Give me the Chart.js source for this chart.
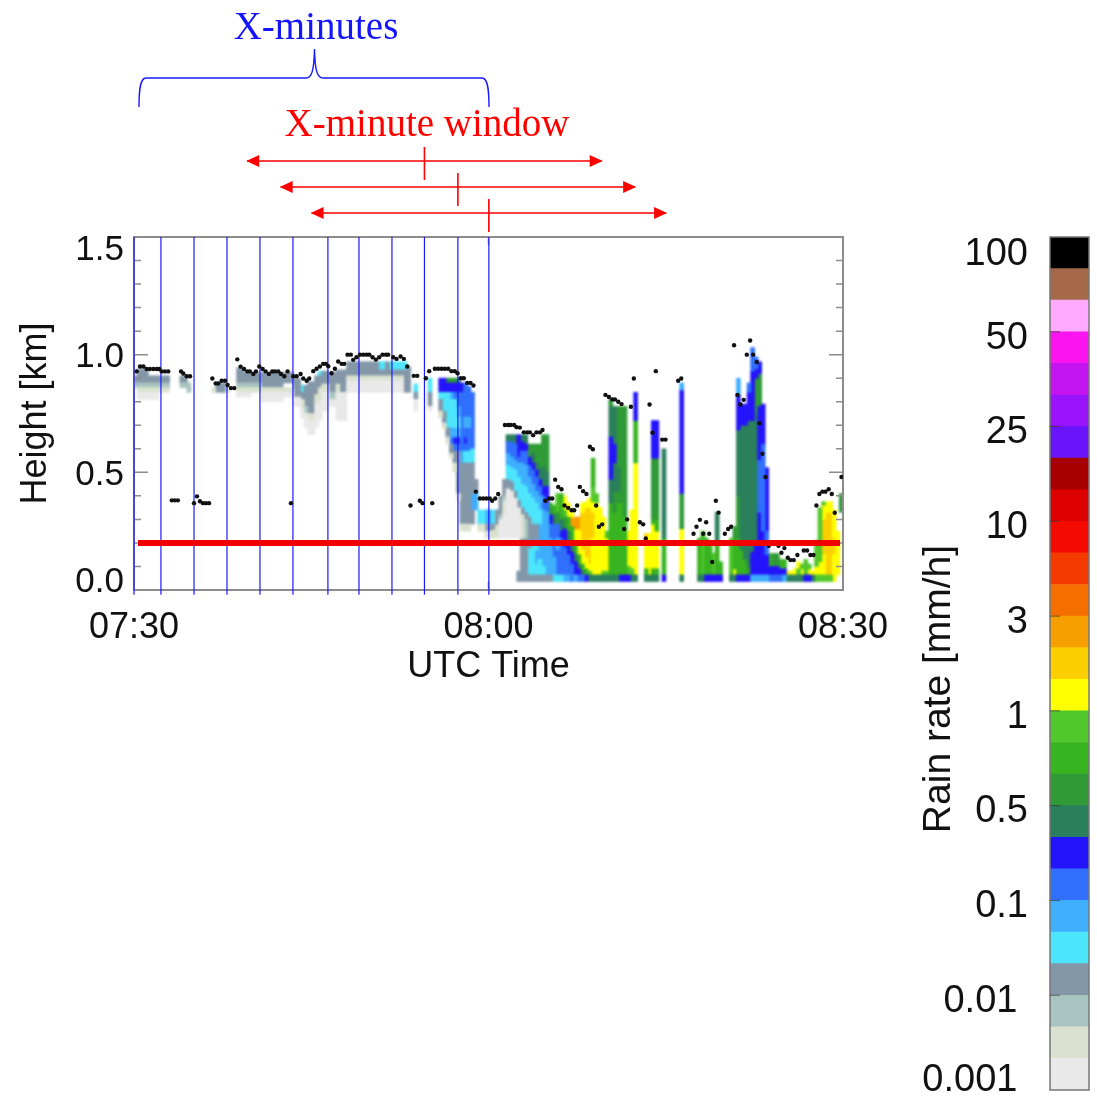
<!DOCTYPE html>
<html>
<head>
<meta charset="utf-8">
<title>Rain rate</title>
<script src="https://cdn.jsdelivr.net/npm/chart.js@4"></script>
<style>
  html, body { margin: 0; background: #fff; }
  canvas { position: absolute; left: 0; top: 0; }
</style>
</head>
<body>
<canvas id="main" width="1097" height="1099"></canvas>
<canvas id="bar" width="1097" height="1099"></canvas>
<script>
// colour bar, bottom to top, one colour per rain level
const levelColors = [
  "#e9e9e9", "#dae2cf", "#a8c4c0", "#8497a8", "#4de5fb", "#3eaefd", "#2f6ffb", "#2414fb", "#2a7f5c",
  "#2f9a36", "#38b420", "#52c72c", "#ffff00", "#fbcf00", "#f79e00", "#f56e00", "#f53a00", "#f50a00",
  "#dd0000", "#a80000", "#6a14fb", "#9a14fb", "#c414f0", "#fa14f0", "#ffaaff", "#a5694a", "#000000"
];
const barTickLabels = ["0.001 ", "0.01 ", "0.1", "0.5", "1", "3", "10", "25", "50", "100"];
const barLabelSlots = [0.3, 2.8, 5.8, 8.8, 11.8, 14.8, 17.8, 20.8, 23.8, 26.45];
const barTickSlots = [3, 6, 9, 12, 15, 18, 21, 24];

const timeTicks = [0, 30, 60]; // minutes after 07:30
const timeLabels = ["07:30", "08:00", "08:30"];
const heightLabels = ["0.0", "0.5", "1.0", "1.5"];
const heightLabelSlots = [0.033, 0.488, 0.988, 1.443];

const columnMinutes = 0.3; // one radar column

// [first column, last column, h0, level, h1, level, ... hTop], heights in km, bands bottom up
const rainBands = [
  // shallow layer before 07:55
  [0,0, .86,2,.88,3,.91],
  [1,3, .81,0,.84,1,.86,2,.88,3,.94],
  [4,6, .81,0,.84,1,.86,2,.88,3,.91],
  [7,9, .84,1,.86,2,.88,3,.91],
  [13,14, .86,2,.88,3,.91],
  [15,15, .84,2,.88],
  [22,22, .84,1,.86],
  [23,25, .84,3,.88],
  [26,26, .84,1,.87],
  [29,30, .82,0,.84,1,.86,2,.88,3,.945],
  [31,32, .82,0,.84,1,.86,2,.88,3,.925],
  [33,35, .84,1,.86,2,.88,3,.925],
  [36,41, .80,0,.84,1,.86,3,.925],
  [42,44, .82,0,.84,1,.86],
  [42,44, .88,3,.925],
  [45,46, .78,0,.82,3,.90],
  [47,47, .73,0,.77,1,.81,3,.84,4,.87],
  [48,48, .69,0,.75,2,.78,3,.87],
  [49,50, .66,0,.72,1,.75,3,.885],
  [51,51, .69,0,.79,1,.83,3,.91],
  [52,52, .72,0,.80,1,.86,3,.91,4,.93],
  [53,54, .76,0,.84,1,.875,3,.93],
  [55,56, .78,0,.81,2,.84,3,.925],
  [57,57, .72,0,.84,1,.875,3,.935],
  [58,59, .72,0,.84,3,.935],
  [60,68, .84,0,.89,1,.91,3,.97],
  [69,70, .84,0,.89,1,.91,3,.935,4,.97],
  [71,71, .84,0,.89,1,.91,3,.97],
  [72,75, .84,0,.89,1,.91,3,.935,4,.97],
  [76,76, .84,3,.935,4,.97],
  [77,77, .84,3,.95],
  [79,79, .76,0,.81,3,.84,4,.875],
  [83,83, .76,0,.78,3,.84,4,.90],
  // falling shaft around 07:56-07:59
  [86,86, .73,1,.76,3,.81,4,.84,7,.90],
  [87,87, .685,1,.71,3,.76,4,.84,7,.90],
  [88,88, .62,1,.65,3,.69,4,.84,7,.88,9,.90],
  [89,89, .56,1,.58,3,.62,6,.65,5,.69,4,.81,5,.84,7,.88,9,.90],
  [90,90, .50,1,.54,3,.59,6,.62,7,.65,5,.69,4,.81,6,.84,7,.88,9,.90],
  [91,91, .38,0,.41,3,.59,6,.62,7,.65,5,.69,4,.735,5,.78,6,.84,7,.88,8,.90],
  [92,92, .25,1,.28,3,.54,5,.59,6,.84,7,.88],
  [93,93, .25,1,.28,3,.54,4,.59,6,.62,7,.65,6,.69,5,.735,6,.88],
  [94,94, .25,1,.28,3,.54,4,.59,6,.69,5,.735,6,.865],
  [95,95, .28,3,.34,5,.41,3,.54,4,.60,6,.84],
  [96,96, .34,5,.42,3,.47],
  [97,98, .25,1,.28,4,.34],
  [99,100, .22,1,.25,3,.28,5,.34],
  [101,101, .22,1,.255,3,.28,4,.34],
  // first surface-reaching shower, above the 0.22 km line
  [102,102, .22,1,.276,3,.34],
  [103,103, .22,0,.30,2,.32,3,.40],
  [104,104, .22,0,.32,1,.38,2,.40,3,.47],
  [105,105, .22,0,.43,3,.47,4,.53,5,.58,6,.63,8,.66],
  [106,106, .22,0,.42,3,.46,4,.52,5,.565,6,.63,8,.66],
  [107,107, .22,0,.39,3,.42,4,.51,5,.55,6,.62,8,.66],
  [108,108, .22,0,.35,3,.38,4,.48,5,.54,6,.565,7,.66],
  [109,109, .22,1,.32,3,.35,4,.45,5,.54,6,.59,7,.63,8,.66],
  [110,110, .22,2,.30,3,.33,4,.44,5,.53,6,.59,7,.62,8,.66],
  [111,111, .22,3,.31,4,.41,5,.48,6,.53,7,.565,9,.62],
  [112,112, .22,3,.28,4,.39,5,.45,6,.51,7,.54,8,.58,9,.62],
  [113,113, .22,3,.28,4,.37,5,.42,6,.48,7,.51,8,.54,9,.62],
  [114,114, .22,5,.28,4,.34,5,.40,6,.44,7,.47,8,.52,9,.62],
  [115,115, .22,5,.34,6,.40,7,.44,8,.52,9,.66],
  [116,116, .22,5,.33,6,.37,7,.44,8,.50,9,.66],
  [117,117, .22,6,.28,7,.32,9,.35,10,.37],
  [118,118, .22,6,.28,8,.32,10,.36],
  [119,119, .22,6,.28,9,.33,11,.41],
  [120,120, .22,7,.25,8,.30,10,.41],
  [121,121, .22,7,.26,9,.31,11,.34,12,.40],
  [122,122, .22,8,.25,10,.31,12,.37],
  [123,123, .22,10,.27,14,.31,12,.33],
  [124,125, .22,12,.255,14,.31],
  [126,126, .22,13,.33,12,.37],
  [127,127, .22,13,.35,12,.375],
  [128,128, .22,13,.35,12,.39],
  [129,129, .22,13,.33,12,.375,11,.44,10,.56],
  [130,130, .22,12,.37,11,.41],
  [131,131, .22,12,.35],
  [132,132, .22,12,.31],
  // same shower, below the 0.22 km line
  [108,108, .036,3,.08],
  [109,110, .036,3,.22],
  [111,111, .036,3,.064,4,.18,3,.22],
  [112,112, .036,3,.064,4,.20,5,.22],
  [113,113, .036,3,.064,4,.11,5,.17,4,.20,3,.22],
  [114,114, .036,3,.064,4,.13,5,.22],
  [115,115, .036,3,.064,4,.10,5,.22],
  [116,117, .036,3,.064,5,.22],
  [118,118, .036,4,.064,5,.14,6,.22],
  [119,119, .036,4,.064,6,.17,5,.22],
  [120,120, .036,4,.064,6,.22],
  [121,121, .036,5,.064,6,.18,7,.22],
  [122,122, .036,5,.064,6,.15,7,.19,8,.22],
  [123,123, .036,6,.11,7,.16,8,.19,10,.22],
  [124,124, .036,5,.064,7,.12,8,.15,10,.19,12,.22],
  [125,125, .036,6,.064,7,.09,8,.11,10,.15,12,.22],
  [126,126, .036,6,.064,8,.08,10,.11,12,.17,13,.22],
  [127,127, .036,7,.064,10,.09,12,.14,13,.22],
  [128,128, .036,8,.064,11,.08,12,.11,13,.22],
  [129,131, .036,8,.064,12,.22],
  [132,132, .036,8,.064,11,.08,12,.22],
  [133,133, .036,8,.064,11,.08,12,.22,11,.25],
  // narrow showers 08:10-08:20
  [134,134, .036,8,.064,10,.37,8,.47,7,.65,8,.78,9,.81],
  [135,135, .036,8,.064,10,.33,9,.42,8,.54,7,.62,8,.78],
  [136,136, .036,8,.064,10,.37,9,.42,8,.52,9,.78],
  [137,137, .036,7,.064,10,.37,9,.78],
  [138,138, .036,7,.064,10,.31,9,.78],
  [139,139, .036,7,.064,11,.10,12,.25],
  [140,140, .036,8,.064,11,.09,12,.34],
  [141,141, .036,8,.064,12,.54,10,.72,7,.84],
  [144,144, .036,8,.064,10,.09,12,.21,13,.24],
  [145,145, .036,8,.064,12,.24],
  [146,146, .036,8,.064,10,.09,12,.28,10,.30,9,.56,7,.72],
  [147,147, .036,8,.064,10,.09,12,.25,10,.30,9,.56,7,.72],
  [149,149, .036,7,.064,10,.22,8,.60],
  [154,154, .036,8,.064,12,.26,9,.41,7,.85,5,.88],
  [159,159, .036,8,.064,10,.22],
  [160,160, .036,8,.064,11,.22,10,.25],
  [161,161, .036,7,.064,10,.22],
  [162,162, .036,7,.064,10,.19],
  [163,163, .036,7,.064,11,.156],
  [164,164, .036,7,.064,10,.20,8,.33],
  [165,165, .036,7,.064,10,.12],
  // deep shower 08:20-08:24
  [168,168, .036,8,.064,11,.22],
  [169,169, .036,8,.064,12,.09,10,.22,9,.27],
  [170,170, .036,7,.064,10,.22,9,.40,8,.68,7,.83,5,.90],
  [171,171, .036,7,.064,10,.17,8,.70,7,.79],
  [172,172, .036,7,.064,10,.13,8,.70,7,.79],
  [173,173, .036,7,.064,9,.10,8,.72,7,.84,6,.88],
  [174,174, .036,5,.064,7,.16,8,.72,7,.93,6,1.03],
  [175,175, .036,5,.064,7,.20,8,.75,9,.90,7,.94,6,.99],
  [176,176, .036,5,.064,7,.33,6,.55,7,.78,9,.92,7,.97],
  [177,177, .036,5,.064,7,.25,6,.62,7,.79],
  [178,178, .036,5,.064,7,.15,6,.25,7,.52],
  [179,179, .036,6,.064,7,.10,10,.155],
  [180,181, .036,6,.064,7,.10,9,.155],
  [182,182, .036,6,.064,7,.09,10,.13],
  [183,183, .036,5,.064,7,.09,10,.13],
  // last light rain up to 08:30
  [184,185, .036,8,.064,12,.08],
  [186,186, .036,8,.064,12,.09],
  [187,187, .036,8,.064,11,.09,12,.12],
  [188,188, .036,8,.064,12,.09,11,.11],
  [189,189, .036,7,.064,11,.13],
  [190,190, .036,7,.064,12,.09,11,.11],
  [191,191, .036,8,.064,12,.08],
  [192,192, .036,11,.064,12,.10,11,.21],
  [193,193, .036,11,.064,12,.12,11,.35],
  [194,194, .036,11,.064,12,.15,13,.30,12,.36,11,.375],
  [195,196, .036,11,.064,13,.33,12,.375],
  [197,197, .036,12,.15,13,.22,12,.34],
  [198,198, .064,12,.25],
  [199,199, .33,9,.41]
];

// radar echo top dots
const dotTimes = [
  .23,.51,.79,1.07,1.35,1.64,1.92,2.14,2.34,2.62,2.9,3.2,3.46,3.71,3.98,4.17,4.46,4.74,5.08,5.33,5.58,5.84,6.09,6.35,
  6.63,6.91,7.14,7.42,7.7,7.92,8.21,8.49,8.74,9.02,9.31,9.59,9.81,10.1,10.32,10.6,10.89,11.14,11.42,11.7,11.93,12.21,
  12.44,12.72,13.0,13.28,13.48,13.76,14.1,14.33,14.61,14.83,15.17,15.45,15.73,16.01,16.24,16.44,16.72,17.0,17.28,17.57,
  17.79,18.07,18.35,18.55,18.83,19.12,19.4,19.68,19.91,20.19,20.47,20.75,21.03,21.32,21.51,21.94,22.22,22.56,22.84,
  23.12,23.4,23.68,23.97,24.19,24.42,24.7,24.98,25.24,25.46,25.74,26.03,26.31,26.59,26.87,27.15,27.38,27.66,27.91,
  28.2,28.48,28.73,28.93,29.27,29.55,29.83,30.11,30.31,30.57,30.82,31.39,31.67,31.89,32.17,32.37,32.65,32.99,33.27,
  33.5,33.78,34.06,34.35,34.57,34.8,35.14,35.39,35.64,35.9,36.18,36.43,36.74,37.03,37.25,37.5,37.73,38.01,38.29,38.58,
  38.83,39.11,39.34,39.62,39.9,40.19,40.47,40.7,40.98,41.26,41.48,41.73,42.05,42.3,42.81,43.09,43.31,43.63,43.88,44.16,
  44.7,44.98,46.05,46.31,47.35,47.6,47.89,48.17,48.42,48.68,48.93,49.24,49.47,50.0,50.28,50.53,50.78,51.07,51.32,51.6,
  51.86,52.14,52.39,52.7,52.93,53.18,53.44,53.72,54.54,54.79,55.04,55.33,55.55,55.83,56.14,56.68,56.96,57.24,57.5,
  57.75,58.0,58.26,58.51,58.79,59.05,59.3,59.87
];
const dotHeights = [
  .929,.95,.95,.939,.939,.939,.939,.939,.929,.929,.929,.381,.381,.381,.929,.92,.908,.908,.369,.398,.377,.369,.369,.369,
  .899,.878,.878,.889,.889,.871,.858,.858,.98,.949,.939,.929,.929,.918,.929,.95,.939,.929,.918,.929,.929,.929,
  .918,.908,.929,.369,.908,.908,.918,.899,.889,.899,.93,.94,.95,.961,.961,.951,.921,.94,.971,.961,
  .961,1.0,1.0,.978,.989,1.0,1.0,1.0,1.0,.989,.979,.989,1.0,1.0,1.0,.989,.982,.992,.982,
  .95,.359,.91,.91,.379,.369,.9,.93,.369,.94,.94,.94,.94,.94,.93,.93,.921,.9,.9,
  .88,.88,.869,.418,.389,.389,.389,.389,.379,.389,.408,.701,.701,.701,.701,.692,.69,.67,.67,
  .67,.658,.67,.67,.68,.379,.389,.389,.469,.438,.428,.359,.349,.339,.339,.359,.438,.42,.408,.609,
  .598,.359,.269,.279,.829,.82,.81,.81,.8,.79,.259,.3,.779,.899,.288,.279,.219,.788,.668,.93,
  .639,.639,.889,.899,.239,.269,.298,.239,.288,.239,.119,.379,.329,.239,.259,.269,1.04,.829,.788,.808,
  1.0,1.06,1.0,.969,.709,.579,.48,.188,.188,.158,.178,.137,.127,.127,.149,.168,.168,.149,.149,
  .359,.408,.418,.418,.428,.408,.328,.48
];

// start of each X-minute step, the window centres drawn above the plot
const stepTimes = [0, 2.28, 5.08, 7.87, 10.66, 13.45, 16.41, 19.04, 21.83, 24.58, 27.41, 30.03];
const windowCentres = [24.58, 27.41, 30.03];
const windowHalfWidth = 15;
const thresholdHeight = 0.2;

const labelFont = "Liberation Sans, Arial, sans-serif";
const noteFont = "Liberation Serif, 'Times New Roman', serif";
const frameColor = "#8c8c8c";

// one bar dataset per rain level, painted column by column
const rainData = levelColors.map(() => []);
rainBands.forEach((row) => {
  for (let col = row[0]; col <= row[1]; col++) {
    for (let i = 2; i + 2 < row.length; i += 2) {
      rainData[row[i + 1]].push({ x: (col + 0.5) * columnMinutes, y: [row[i], row[i + 2]] });
    }
  }
});
const rainDatasets = levelColors.map((color, i) => ({
  type: "bar",
  data: rainData[i],
  backgroundColor: color,
  barThickness: 4,
  grouped: false,
  order: 10,
}));

const stepDatasets = stepTimes.map((t) => ({
  type: "line",
  data: [{ x: t, y: -0.02 }, { x: t, y: 1.5 }],
  borderColor: "#1a1aff",
  borderWidth: 1.2,
  pointRadius: 0,
  clip: false,
  order: 5,
}));

const dotDataset = {
  type: "scatter",
  data: dotTimes.map((t, i) => ({ x: t, y: dotHeights[i] })),
  backgroundColor: "#111",
  borderWidth: 0,
  pointRadius: 2.2,
  order: 4,
};

const thresholdDataset = {
  type: "line",
  data: [{ x: 0.34, y: thresholdHeight }, { x: 59.75, y: thresholdHeight }],
  borderColor: "#f00000",
  borderWidth: 6,
  pointRadius: 0,
  order: 1,
};

// grey box with inward ticks, same on both sides
const drawFrame = (chart) => {
  const { ctx, chartArea: a, scales } = chart;
  ctx.save();
  ctx.strokeStyle = frameColor;
  ctx.lineWidth = 2;
  ctx.strokeRect(a.left, a.top, a.right - a.left, a.bottom - a.top);
  ctx.lineWidth = 1.5;
  ctx.beginPath();
  for (let k = 0; k <= 15; k++) {
    const y = scales.y.getPixelForValue(k / 10);
    const len = k % 5 === 0 ? 14 : 7;
    ctx.moveTo(a.left, y); ctx.lineTo(a.left + len, y);
    ctx.moveTo(a.right, y); ctx.lineTo(a.right - len, y);
  }
  timeTicks.forEach((t) => {
    const x = scales.x.getPixelForValue(t);
    ctx.moveTo(x, a.bottom); ctx.lineTo(x, a.bottom - 8);
    ctx.moveTo(x, a.top); ctx.lineTo(x, a.top + 8);
  });
  ctx.stroke();
  ctx.restore();
};

// soften the raster once its last level is painted, the source is a resampled image
const softenPlugin = {
  id: "soften",
  afterDatasetDraw(chart, args) {
    if (args.index !== 0) return;
    const { ctx, chartArea: a } = chart;
    const copy = document.createElement("canvas");
    copy.width = chart.canvas.width;
    copy.height = chart.canvas.height;
    copy.getContext("2d").drawImage(chart.canvas, 0, 0);
    ctx.save();
    ctx.beginPath();
    ctx.rect(a.left, a.top, a.right - a.left, a.bottom - a.top);
    ctx.clip();
    ctx.fillStyle = "#fff";
    ctx.fillRect(a.left, a.top, a.right - a.left, a.bottom - a.top);
    ctx.filter = "blur(0.8px)";
    ctx.drawImage(copy, 0, 0);
    ctx.restore();
    drawFrame(chart);
  },
};

// the X-minute brace and the three window arrows over the plot
const notesPlugin = {
  id: "notes",
  afterDraw(chart) {
    const { ctx, scales } = chart;
    const sx = scales.x;
    ctx.save();
    ctx.textAlign = "center";
    ctx.textBaseline = "alphabetic";
    ctx.font = "39px " + noteFont;
    ctx.fillStyle = "#1414ff";
    ctx.fillText("X-minutes", 316, 39);
    ctx.fillStyle = "#ff0000";
    ctx.fillText("X-minute window", 427, 136);

    ctx.strokeStyle = "#1a1aff";
    ctx.lineWidth = 1.4;
    ctx.beginPath();
    ctx.moveTo(139, 107);
    ctx.bezierCurveTo(139, 90, 140, 78, 146, 78);
    ctx.lineTo(306, 78);
    ctx.bezierCurveTo(312, 78, 314, 70, 314.5, 49);
    ctx.bezierCurveTo(315, 70, 317, 78, 323, 78);
    ctx.lineTo(482, 78);
    ctx.bezierCurveTo(488, 78, 489, 90, 489, 107);
    ctx.stroke();

    ctx.strokeStyle = "#ff0000";
    ctx.fillStyle = "#ff0000";
    windowCentres.forEach((t, i) => {
      const y = 161 + i * 26;
      const c = sx.getPixelForValue(t);
      const l = sx.getPixelForValue(t - windowHalfWidth);
      const r = sx.getPixelForValue(t + windowHalfWidth);
      ctx.lineWidth = 1.6;
      ctx.beginPath();
      ctx.moveTo(l, y); ctx.lineTo(r, y);
      ctx.moveTo(c, y - 14); ctx.lineTo(c, y + 19);
      ctx.stroke();
      ctx.beginPath();
      ctx.moveTo(l - 1, y); ctx.lineTo(l + 12, y - 6); ctx.lineTo(l + 12, y + 6); ctx.closePath();
      ctx.moveTo(r + 1, y); ctx.lineTo(r - 12, y - 6); ctx.lineTo(r - 12, y + 6); ctx.closePath();
      ctx.fill();
    });
    ctx.restore();
  },
};

new Chart(document.getElementById("main"), {
  type: "bar",
  data: { datasets: [...rainDatasets, ...stepDatasets, dotDataset, thresholdDataset] },
  options: {
    responsive: false,
    animation: false,
    devicePixelRatio: 1,
    layout: { padding: { left: 0, top: 237, right: 254, bottom: 409 } },
    plugins: { legend: { display: false }, tooltip: { enabled: false } },
    scales: {
      x: {
        type: "linear",
        min: 0,
        max: 60,
        offset: false,
        grid: { display: false, drawTicks: false },
        border: { display: false },
        afterBuildTicks: (scale) => { scale.ticks = timeTicks.map((v) => ({ value: v })); },
        afterFit: (scale) => { scale.height = 100; },
        ticks: {
          autoSkip: false,
          maxRotation: 0,
          padding: 16,
          color: "#111",
          font: { family: labelFont, size: 36 },
          callback: (v) => timeLabels[timeTicks.indexOf(v)],
        },
        title: {
          display: true,
          text: "UTC Time",
          color: "#111",
          font: { family: labelFont, size: 36 },
          padding: { top: 0, bottom: 1 },
        },
      },
      y: {
        type: "linear",
        min: 0,
        max: 1.5,
        grid: { display: false, drawTicks: false },
        border: { display: false },
        afterBuildTicks: (scale) => { scale.ticks = heightLabelSlots.map((v) => ({ value: v })); },
        afterFit: (scale) => { scale.width = 134; },
        ticks: {
          padding: 10,
          color: "#111",
          font: { family: labelFont, size: 35 },
          callback: (v) => heightLabels[heightLabelSlots.indexOf(v)],
        },
        title: {
          display: true,
          text: "Height [km]",
          color: "#111",
          font: { family: labelFont, size: 36 },
          padding: { top: 14, bottom: 0 },
        },
      },
    },
  },
  plugins: [softenPlugin, notesPlugin],
});

// colour bar, stacked one unit per level
const barEdgePlugin = {
  id: "barEdge",
  afterDraw(chart) {
    const { ctx, chartArea: a, scales } = chart;
    ctx.save();
    ctx.strokeStyle = "#777";
    ctx.lineWidth = 1.5;
    ctx.strokeRect(a.left, a.top, a.right - a.left, a.bottom - a.top);
    ctx.strokeStyle = "rgba(60,60,60,0.75)";
    ctx.lineWidth = 1;
    ctx.beginPath();
    barTickSlots.forEach((s) => {
      const y = scales.y.getPixelForValue(s);
      ctx.moveTo(a.left, y); ctx.lineTo(a.left + 10, y);
    });
    ctx.stroke();
    ctx.translate(939, 689);
    ctx.rotate(-Math.PI / 2);
    ctx.textAlign = "center";
    ctx.textBaseline = "middle";
    ctx.fillStyle = "#111";
    ctx.font = "39px " + labelFont;
    ctx.fillText("Rain rate [mm/h]", 0, 0);
    ctx.restore();
  },
};

new Chart(document.getElementById("bar"), {
  type: "bar",
  data: {
    labels: ["rate"],
    datasets: levelColors.map((color) => ({
      data: [1],
      backgroundColor: color,
      categoryPercentage: 1,
      barPercentage: 1,
    })),
  },
  options: {
    responsive: false,
    animation: false,
    devicePixelRatio: 1,
    layout: { padding: { left: 900, top: 237, right: 8, bottom: 9 } },
    plugins: { legend: { display: false }, tooltip: { enabled: false } },
    scales: {
      x: { stacked: true, display: false },
      y: {
        stacked: true,
        min: 0,
        max: levelColors.length,
        grid: { display: false, drawTicks: false },
        border: { display: false },
        afterBuildTicks: (scale) => { scale.ticks = barLabelSlots.map((v) => ({ value: v })); },
        afterFit: (scale) => { scale.width = 150; scale.paddingTop = 0; scale.paddingBottom = 0; },
        ticks: {
          padding: 22,
          color: "#111",
          font: { family: labelFont, size: 38 },
          callback: (v) => barTickLabels[barLabelSlots.indexOf(v)],
        },
      },
    },
  },
  plugins: [barEdgePlugin],
});
</script>
</body>
</html>
